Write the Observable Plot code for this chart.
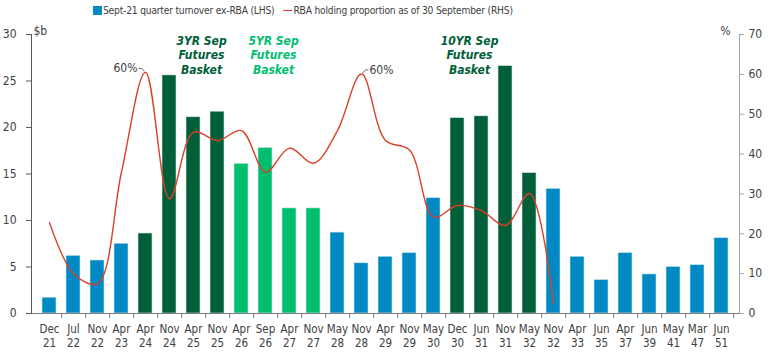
<!DOCTYPE html>
<html><head><meta charset="utf-8">
<script src="https://cdn.jsdelivr.net/npm/d3@7"></script>
<script src="https://cdn.jsdelivr.net/npm/@observablehq/plot@0.6"></script>
<style>
body{margin:0;background:#fff;}
#wrap{position:relative;width:768px;height:353px;font-family:"Liberation Sans Narrow","DejaVu Sans Condensed",sans-serif;color:#404040;}
#legend{position:absolute;left:93px;top:5px;font-size:10.2px;letter-spacing:-0.2px;display:flex;align-items:center;white-space:nowrap;}
#legend .sw{display:inline-block;width:9px;height:9px;background:#0089C4;margin-right:1px;}
#legend .ln{display:inline-block;width:9px;height:0;border-top:1.5px solid #D9412B;margin:0 1px 0 9px;}
#wrap svg{position:absolute;left:0;top:0;}
</style></head>
<body><div id="wrap"><div id="legend"><span class="sw"></span>Sept-21 quarter turnover ex-RBA (LHS)<span class="ln"></span>RBA holding proportion as of 30 September (RHS)</div></div>
<script>
const categories = ["Dec 21","Jul 22","Nov 22","Apr 23","Apr 24","Nov 24","Apr 25","Nov 25","Apr 26","Sep 26","Apr 27","Nov 27","May 28","Nov 28","Apr 29","Nov 29","May 30","Dec 30","Jun 31","Nov 31","May 32","Nov 32","Apr 33","Jun 35","Apr 37","Jun 39","May 41","Mar 47","Jun 51"];
const turnover = [1.7,6.2,5.7,7.5,8.6,25.6,21.1,21.7,16.1,17.8,11.3,11.3,8.7,5.4,6.1,6.5,12.4,21.0,21.2,26.6,15.1,13.4,6.1,3.6,6.5,4.2,5.0,5.2,8.1];
const basket = ["none","none","none","none","3YR","3YR","3YR","3YR","5YR","5YR","5YR","5YR","none","none","none","none","none","10YR","10YR","10YR","10YR","none","none","none","none","none","none","none","none"];
const rbaShare = [22.8,10.0,7.5,35.5,60.5,28.8,45.5,43.4,45.9,35.5,41.5,37.7,45.9,60.1,43.4,41.0,24.2,27.1,25.8,22.1,30.1,2.5];
const annotations = [
  {cat:"Apr 25", text:"3YR Sep\nFutures\nBasket", basket:"3YR"},
  {cat:"Sep 26", text:"5YR Sep\nFutures\nBasket", basket:"5YR"},
  {cat:"Dec 30", text:"10YR Sep\nFutures\nBasket", basket:"10YR"}
];
const peakLabels = [{cat:"Apr 24", value:60.5, text:"60%", side:"left"},{cat:"Nov 28", value:60.1, text:"60%", side:"right"}];
const leftTicks = [0,5,10,15,20,25,30];
const rightTicks = [0,10,20,30,40,50,60,70];

const colorOf = {"none":"#0089C4","3YR":"#005E38","10YR":"#005E38","5YR":"#00BF6F"};
const annDx = {"3YR":8,"5YR":8,"10YR":12};
const k = 30/70;
const bars = categories.map((c,i)=>({cat:c, v:turnover[i], basket:basket[i]}));
const line = rbaShare.map((v,i)=>({cat:categories[i], v}));
const font = `"Liberation Sans Narrow","DejaVu Sans Condensed",sans-serif`;
const leaderL = {draw(ctx){ctx.moveTo(-1,-1);ctx.lineTo(-4,-4);ctx.lineTo(-7,-4);}};
const leaderR = {draw(ctx){ctx.moveTo(1,-1);ctx.lineTo(4,-4);ctx.lineTo(7,-4);}};

const chart = Plot.plot({
  width:768, height:353,
  marginLeft:31, marginRight:29, marginTop:34, marginBottom:40,
  style:{fontFamily:font, fontSize:"11.5px", color:"#404040", background:"transparent", overflow:"visible"},
  x:{type:"band", domain:categories, padding:0.42, align:0.5, label:null},
  y:{domain:[0,30], label:null},
  marks:[
    Plot.barY(bars, {x:"cat", y:"v", fill:d=>colorOf[d.basket], stroke:"#cfe6df", strokeWidth:0.6}),
    Plot.ruleY([0], {stroke:"#7f7f7f", strokeWidth:1}),
    Plot.axisX({tickSize:5, tickFormat:()=>"", dx:12.2, stroke:"#7f7f7f", label:null}),
    Plot.axisX({tickSize:0, tickPadding:10, lineHeight:1.2, fontSize:11.5, fill:"#404040", label:null,
      tickFormat:d=>d.replace(" ","\n")}),
    Plot.axisY(leftTicks, {anchor:"left", tickSize:5, tickPadding:10, stroke:"#595959", fontSize:12, fill:"#404040", label:null}),
    Plot.axisY(rightTicks.map(v=>v*k), {anchor:"right", tickSize:4, tickPadding:5, stroke:"#a6a6a6", fontSize:12, fill:"#404040", label:null,
      tickFormat:d=>String(Math.round(d/k))}),
    Plot.frame({anchor:"left", stroke:"#595959"}),
    Plot.frame({anchor:"right", stroke:"#a6a6a6"}),
    Plot.text(["$b"], {frameAnchor:"top-left", dx:2, dy:-8, fontSize:12, fill:"#404040", textAnchor:"start"}),
    Plot.text(["%"], {frameAnchor:"top-right", dx:-9, dy:-8, fontSize:12, fill:"#404040", textAnchor:"end"}),
    Plot.line(line, {x:"cat", y:d=>d.v*k, stroke:"#D9412B", strokeWidth:1.4, curve:"catmull-rom"}),
    Plot.dot(peakLabels, {x:"cat", y:d=>d.value*k, symbol:d=>d.side==="left"?leaderL:leaderR, stroke:"#404040", strokeWidth:0.8, r:3, fill:"none"}),
    Plot.text(peakLabels.filter(d=>d.side==="left"), {x:"cat", y:d=>d.value*k, text:"text", textAnchor:"end", dx:-8, dy:-4, fontSize:12, fill:"#404040"}),
    Plot.text(peakLabels.filter(d=>d.side==="right"), {x:"cat", y:d=>d.value*k, text:"text", textAnchor:"start", dx:8, dy:-4, fontSize:12, fill:"#404040"}),
    ...annotations.map(a => Plot.text([a], {x:"cat", y:30, dx:annDx[a.basket], text:"text", fill:colorOf[a.basket], fontWeight:"bold", fontStyle:"italic", fontSize:12, lineAnchor:"top", lineHeight:1.2}))
  ]
});
document.getElementById("wrap").appendChild(chart);
</script></body></html>
